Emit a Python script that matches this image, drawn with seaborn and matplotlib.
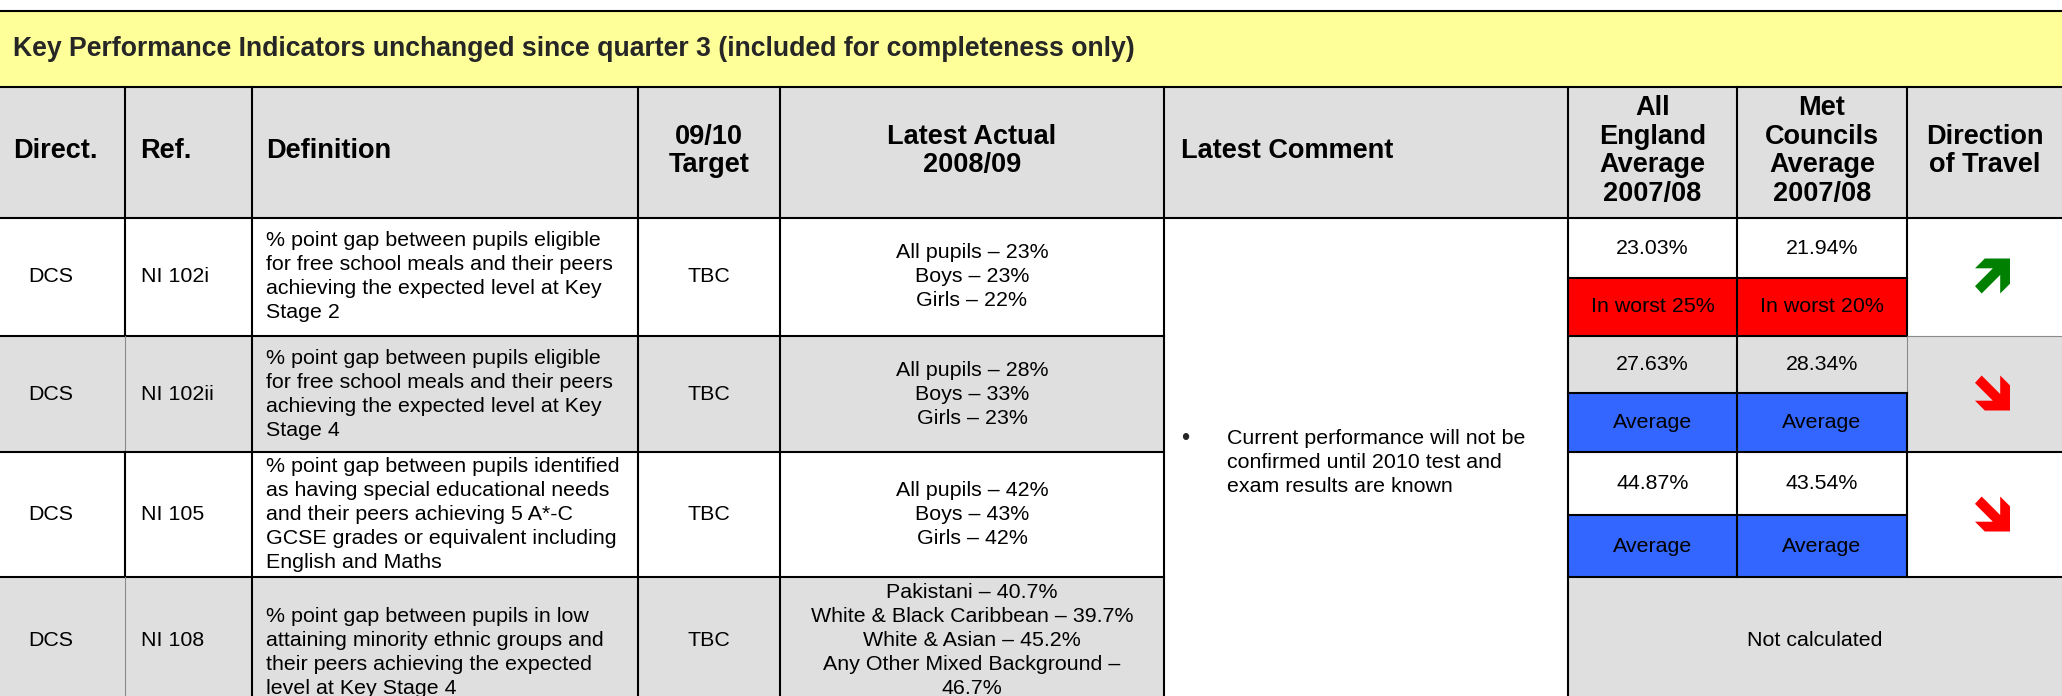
import matplotlib
matplotlib.use("Agg")
import matplotlib.pyplot as plt
import seaborn as sns
from matplotlib.patches import Rectangle, Polygon

# %% table content
title = "Key Performance Indicators unchanged since quarter 3 (included for completeness only)"
headers = ["Direct.", "Ref.", "Definition", "09/10\nTarget", "Latest Actual\n2008/09",
           "Latest Comment", "All\nEngland\nAverage\n2007/08", "Met\nCouncils\nAverage\n2007/08",
           "Direction\nof Travel"]
directorate = ["DCS", "DCS", "DCS", "DCS"]
refs = ["NI 102i", "NI 102ii", "NI 105", "NI 108"]
definitions = [
    ["% point gap between pupils eligible", "for free school meals and their peers",
     "achieving the expected level at Key", "Stage 2"],
    ["% point gap between pupils eligible", "for free school meals and their peers",
     "achieving the expected level at Key", "Stage 4"],
    ["% point gap between pupils identified", "as having special educational needs",
     "and their peers achieving 5 A*-C", "GCSE grades or equivalent including", "English and Maths"],
    ["% point gap between pupils in low", "attaining minority ethnic groups and",
     "their peers achieving the expected", "level at Key Stage 4"],
]
targets = ["TBC", "TBC", "TBC", "TBC"]
actuals = [
    ["All pupils \u2013 23%", "Boys \u2013 23%", "Girls \u2013 22%"],
    ["All pupils \u2013 28%", "Boys \u2013 33%", "Girls \u2013 23%"],
    ["All pupils \u2013 42%", "Boys \u2013 43%", "Girls \u2013 42%"],
    ["Pakistani \u2013 40.7%", "White & Black Caribbean \u2013 39.7%", "White & Asian \u2013 45.2%",
     "Any Other Mixed Background \u2013", "46.7%"],
]
comment = ["Current performance will not be", "confirmed until 2010 test and", "exam results are known"]
england_avg = ["23.03%", "27.63%", "44.87%"]
met_avg = ["21.94%", "28.34%", "43.54%"]
england_band = ["In worst 25%", "Average", "Average"]
met_band = ["In worst 20%", "Average", "Average"]
direction = ["up", "down", "down"]
last_row_note = "Not calculated"

# %% layout (pixels of the 2062x696 page)
W, H = 2062, 696
col_x = [0, 125, 252, 638, 780, 1164, 1568, 1737, 1907, 2062]
band_top, band_bot, head_bot = 11, 87, 218
row_y = [218, 336, 452, 577, 696]
sub_y = [278, 393, 515]
row_cy = [277, 394, 515, 640]
def_shift = [0, 0, 0, 13]
lh_body, lh_head = 24, 28.5
body_size = 15.4

yellow = "#FFFF99"
grey = "#DFDFDF"
red = "#FF0000"
blue = "#3366FF"
green = "#008000"

sns.set_theme(style="white")
plt.rcParams['font.family'] = ['Liberation Sans', 'DejaVu Sans']

fig = plt.figure(figsize=(W / 100, H / 100), dpi=100)
ax = fig.add_axes([0, 0, 1, 1])
ax.set_xlim(0, W)
ax.set_ylim(H, 0)
ax.axis('off')


def rect(x0, y0, x1, y1, color):
    ax.add_patch(Rectangle((x0, y0), x1 - x0, y1 - y0, facecolor=color, edgecolor='none', zorder=1))


def lines(x, cy, items, ha='center', size=body_size, weight='normal', lh=lh_body):
    n = len(items)
    for i, s in enumerate(items):
        ax.text(x, cy + (i - (n - 1) / 2) * lh, s, ha=ha, va='center', fontsize=size,
                fontweight=weight, color='black', zorder=4)


# backgrounds
rect(0, band_top, W, band_bot, yellow)
rect(0, band_bot, W, head_bot, grey)
for i in range(len(refs)):
    rect(0, row_y[i], W, row_y[i + 1], grey if i % 2 else 'white')
rect(col_x[5], head_bot, col_x[6], H, 'white')

for i, lab in enumerate(england_band):
    c = red if lab.startswith("In worst") else blue
    rect(col_x[6], sub_y[i], col_x[7], row_y[i + 1], c)
for i, lab in enumerate(met_band):
    c = red if lab.startswith("In worst") else blue
    rect(col_x[7], sub_y[i], col_x[8], row_y[i + 1], c)

# title and header
ax.text(13, (band_top + band_bot) / 2, title, ha='left', va='center', fontsize=19.2,
        fontweight='bold', zorder=4)
head_cy = 151
left_headers = {0: 13, 1: 140, 2: 266, 5: 1181}
for j, h in enumerate(headers):
    parts = h.split("\n")
    if j in left_headers:
        lines(left_headers[j], head_cy, parts, ha='left', size=19.5, weight='bold', lh=lh_head)
    else:
        lines((col_x[j] + col_x[j + 1]) / 2, head_cy, parts, size=19.5, weight='bold', lh=lh_head)

# body rows
for i in range(len(refs)):
    cy = row_cy[i]
    lines(28, cy, [directorate[i]], ha='left')
    lines(141, cy, [refs[i]], ha='left')
    lines(266, cy + def_shift[i], definitions[i], ha='left')
    lines((col_x[3] + col_x[4]) / 2, cy, [targets[i]])
    lines((col_x[4] + col_x[5]) / 2, cy, actuals[i])

for i in range(len(england_avg)):
    top_cy = (row_y[i] + sub_y[i]) / 2
    bot_cy = (sub_y[i] + row_y[i + 1]) / 2
    lines((col_x[6] + col_x[7]) / 2, top_cy, [england_avg[i]])
    lines((col_x[7] + col_x[8]) / 2, top_cy, [met_avg[i]])
    lines((col_x[6] + col_x[7]) / 2, bot_cy, [england_band[i]])
    lines((col_x[7] + col_x[8]) / 2, bot_cy, [met_band[i]])

lines((col_x[6] + col_x[9]) / 2, row_cy[3], [last_row_note])

# comment with bullet
ax.text(1185, 439, "\u2022", ha='center', va='center', fontsize=17, zorder=4)
lines(1227, 463, comment, ha='left')

# direction of travel arrows (unit shape, y downwards, pointing down-right)
se_shape = [(0.19, 0), (0.72, 0.53), (0.72, 0), (1, 0.28), (1, 1), (0.28, 1),
            (0, 0.72), (0.51, 0.72), (0, 0.21)]
arrow_size = 35
for i, d in enumerate(direction):
    cx = (col_x[8] + col_x[9]) / 2 + 8
    cy = row_cy[i] - 1
    shape = se_shape if d == "down" else [(x, 1 - y) for x, y in se_shape]
    pts = [(cx - arrow_size / 2 + x * arrow_size, cy - arrow_size / 2 + y * arrow_size) for x, y in shape]
    ax.add_patch(Polygon(pts, closed=True, facecolor=red if d == "down" else green,
                         edgecolor='none', zorder=3))

# grid lines
blk = dict(color='black', lw=1.5, zorder=5, solid_capstyle='projecting')
thin = dict(color='#8A8A8A', lw=0.8, zorder=5)
for y in [band_top, band_bot, head_bot]:
    ax.plot([0, W], [y, y], **blk)
for y in row_y[1:4]:
    ax.plot([0, col_x[5]], [y, y], **blk)
ax.plot([col_x[6], col_x[8]], [row_y[1], row_y[1]], **blk)
ax.plot([col_x[8], W], [row_y[1], row_y[1]], **thin)
for y in row_y[2:4]:
    ax.plot([col_x[6], W], [y, y], **blk)
for y in sub_y:
    ax.plot([col_x[6], col_x[8]], [y, y], **blk)

ax.plot([col_x[1]] * 2, [band_bot, row_y[1]], **blk)
ax.plot([col_x[1]] * 2, [row_y[1], row_y[2]], **thin)
ax.plot([col_x[1]] * 2, [row_y[2], row_y[3]], **blk)
ax.plot([col_x[1]] * 2, [row_y[3], H], **thin)
for x in col_x[2:7]:
    ax.plot([x, x], [band_bot, H], **blk)
ax.plot([col_x[7]] * 2, [band_bot, row_y[3]], **blk)
ax.plot([col_x[8]] * 2, [band_bot, row_y[1]], **blk)
ax.plot([col_x[8]] * 2, [row_y[1], sub_y[1]], **thin)
ax.plot([col_x[8]] * 2, [sub_y[1], row_y[3]], **blk)

sns.despine(ax=ax, left=True, bottom=True)
fig.savefig("out.png", dpi=100)
